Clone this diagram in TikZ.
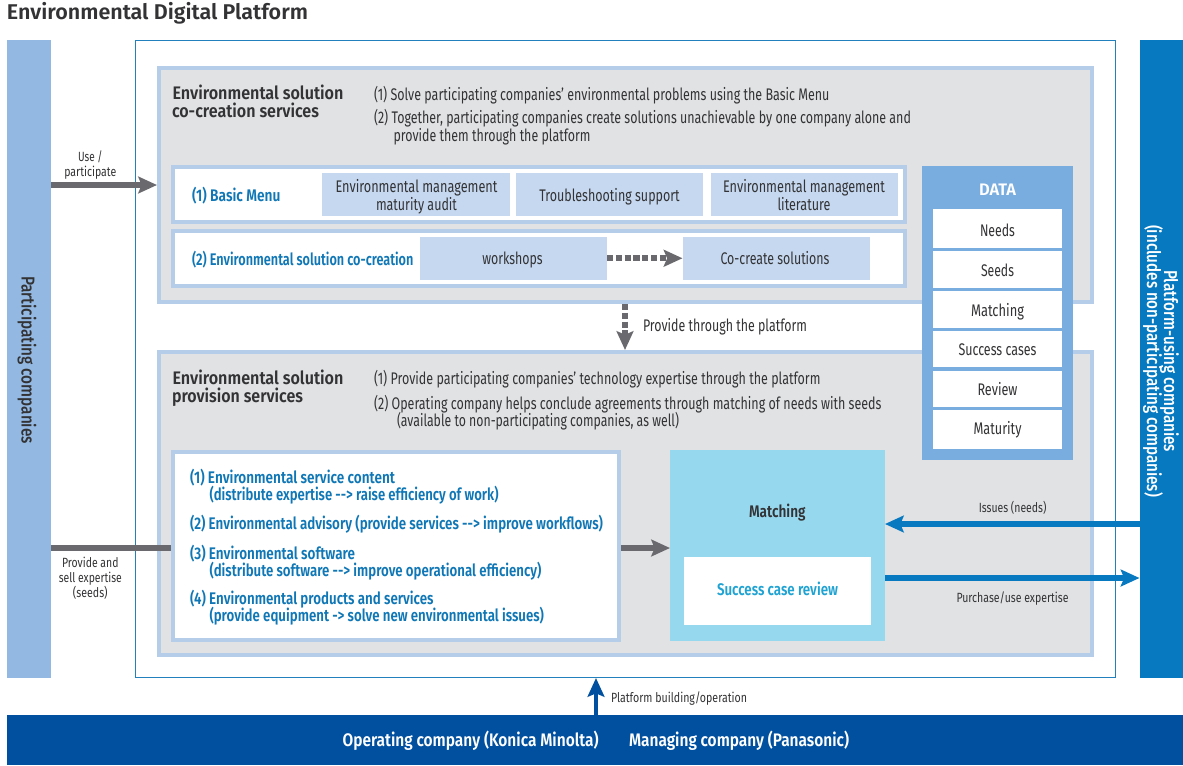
\documentclass[tikz,border=0pt]{standalone}
\usepackage{graphicx}
\usepackage{fontspec}
\setmainfont{Fira Sans}[BoldFont={Fira Sans SemiBold}]
\newfontface\medface{Fira Sans Medium}
\usetikzlibrary{arrows.meta}
\definecolor{cSide}{HTML}{93B9E3}
\definecolor{cOuter}{HTML}{2280BC}
\definecolor{cGray}{HTML}{E0E2E4}
\definecolor{cEdge}{HTML}{B5CDE8}
\definecolor{cTile}{HTML}{C5D8F0}
\definecolor{cData}{HTML}{7AADDF}
\definecolor{cBar}{HTML}{0779C1}
\definecolor{cBase}{HTML}{00509F}
\definecolor{cMatch}{HTML}{96D9EF}
\definecolor{cCyan}{HTML}{1FA3D3}
\definecolor{cBlue}{HTML}{0F77B6}
\definecolor{cArrow}{HTML}{6A6A6E}
\definecolor{cText}{HTML}{333335}
\tikzset{
  boxn/.style={rectangle,inner sep=0pt},
  txt/.style={inner sep=0pt,outer sep=0pt,anchor=base west,text=cText},
  mid/.style={anchor=base},
  body/.style={font=\fontsize{12.6pt}{14pt}\selectfont},
  small/.style={font=\fontsize{10pt}{12pt}\selectfont},
  head/.style={font=\fontsize{13.6pt}{15pt}\selectfont\bfseries},
  blue/.style={font=\fontsize{12.6pt}{14pt}\selectfont\bfseries,text=cBlue},
  sidelab/.style={anchor=base,rotate=-90,font=\fontsize{14pt}{15pt}\medface},
  ah/.tip={Stealth[length=14pt,width=12.5pt,inset=2.5pt]},
  grayarrow/.style={draw=cArrow,line width=4.5pt},
  dasharrow/.style={draw=cArrow,line width=4.5pt,dash pattern=on 4.6pt off 2pt},
  bluearrow/.style={draw=cBar,line width=4.2pt},
}
% name, x0, y0, x1, y1, style, border (all in reference pixels, outer edges)
\newcommand{\bx}[7]{%
  \pgfmathsetlengthmacro\bxw{(#4-#2-#7)*0.75}%
  \pgfmathsetlengthmacro\bxh{(#5-#3-#7)*0.75}%
  \pgfmathsetlengthmacro\bxl{#7*0.75}%
  \node[boxn,#6,minimum width=\bxw,minimum height=\bxh,line width=\bxl,outer sep=0.5*\bxl] (#1) at ({(#2+#4)/2},{(#3+#5)/2}) {};}
% name, x, baseline y, style, width in px, text
\newcommand{\tl}[6]{%
  \pgfmathsetlengthmacro\tlw{#5*0.75}%
  \node[txt,#4] (#1) at (#2,#3) {\resizebox{\tlw}{\height}{#6}};}
\begin{document}
\begin{tikzpicture}[x=0.75pt,y=-0.75pt]
\useasboundingbox (0,0) rectangle (1183,765);
\fill[white] (0,0) rectangle (1183,765);
% big containers
\bx{pc}{6.5}{40}{51}{678}{fill=cSide}{0}
\bx{pu}{1139.5}{40}{1183}{678}{fill=cBar}{0}
\bx{base}{6.5}{715}{1183}{764.5}{fill=cBase}{0}
\bx{outer}{134.5}{40}{1116}{678}{fill=white,draw=cOuter}{1.3}
\bx{gone}{157}{65.5}{1094}{304}{fill=cGray,draw=cEdge}{4}
\bx{gtwo}{157}{350}{1094}{657}{fill=cGray,draw=cEdge}{4}
% co-creation rows
\bx{rowa}{170.5}{164.5}{907}{224}{fill=white,draw=cEdge}{4}
\bx{rowb}{170.5}{228.5}{907}{288}{fill=white,draw=cEdge}{4}
\bx{ta}{321.5}{173}{510}{216}{fill=cTile}{0}
\bx{tb}{515.5}{173}{703}{216}{fill=cTile}{0}
\bx{tc}{710.5}{173}{898}{216}{fill=cTile}{0}
\bx{wk}{420}{237}{607}{279.5}{fill=cTile}{0}
\bx{cc}{682.5}{237}{870}{279.5}{fill=cTile}{0}
% data
\bx{data}{922}{165.5}{1072.5}{460}{fill=cData}{0}
\bx{da}{933}{209}{1062}{247.5}{fill=white}{0}
\bx{db}{933}{251}{1062}{287.5}{fill=white}{0}
\bx{dc}{933}{291}{1062}{327.5}{fill=white}{0}
\bx{dd}{933}{331}{1062}{367}{fill=white}{0}
\bx{de}{933}{370.5}{1062}{406.5}{fill=white}{0}
\bx{df}{933}{410}{1062}{449}{fill=white}{0}
% provision area
\bx{list}{170.5}{449.5}{621}{641.5}{fill=white,draw=cEdge}{4}
\bx{match}{670}{450}{885}{641}{fill=cMatch}{0}
\bx{succ}{684}{556.5}{871}{625}{fill=white}{0}
% connector rows
\coordinate (ya) at (0,185);
\coordinate (yb) at (0,548);
\coordinate (yc) at (0,524);
\coordinate (yd) at (0,578);
\coordinate (xv) at (625,0);
\coordinate (xp) at (596,0);
\draw[grayarrow,-{ah[]}] (pc.east |- ya) -- (gone.west |- ya);
\draw[grayarrow] (pc.east |- yb) -- (list.west |- yb);
\draw[grayarrow,-{ah[]}] (list.east |- yb) -- (match.west |- yb);
\draw[dasharrow,-{ah[]}] (wk.east) -- (cc.west);
\draw[dasharrow,-{ah[]}] (xv |- gone.south) -- (xv |- gtwo.north);
\draw[bluearrow,-{ah[]}] (pu.west |- yc) -- (match.east |- yc);
\draw[bluearrow,-{ah[]}] (match.east |- yd) -- (pu.west |- yd);
\draw[draw=cBase,line width=3.2pt,-{ah[]}] (xp |- base.north) -- (xp |- outer.south);
% title
\tl{title}{7}{19.5}{font=\fontsize{16pt}{18pt}\selectfont\bfseries}{301}{Environmental Digital Platform}
% side labels
\tl{pca}{21.5}{360}{sidelab}{168}{Participating companies}
\tl{pua}{1164}{361}{sidelab,text=white}{182}{Platform-using companies}
\tl{pub}{1147}{361}{sidelab,text=white}{272}{(includes non-participating companies)}
% left labels
\tl{usea}{90.3}{161}{mid,small}{24.5}{Use /}
\tl{useb}{90.3}{176}{mid,small}{52}{participate}
\tl{sella}{90.3}{567.3}{mid,small}{56.4}{Provide and}
\tl{sellb}{90.3}{582.3}{mid,small}{63}{sell expertise}
\tl{sellc}{90.3}{597}{mid,small}{34.7}{(seeds)}
% co-creation text
\tl{ha}{172.5}{99.5}{head}{171}{Environmental solution}
\tl{hb}{172}{117.5}{head}{147}{co-creation services}
\tl{sa}{374}{100}{body}{455.5}{(1) Solve participating companies' environmental problems using the Basic Menu}
\tl{sb}{374}{123.5}{body}{537}{(2) Together, participating companies create solutions unachievable by one company alone and}
\tl{sc}{393.5}{141.5}{body}{197}{provide them through the platform}
\tl{ra}{192}{201}{blue}{88.5}{(1) Basic Menu}
\tl{rb}{192}{265}{blue}{221.5}{(2) Environmental solution co-creation}
\tl{taa}{416.5}{192.7}{mid,body}{162}{Environmental management}
\tl{tab}{416.5}{210.7}{mid,body}{81}{maturity audit}
\tl{tba}{609.5}{201}{mid,body}{140.5}{Troubleshooting support}
\tl{tca}{804}{192.4}{mid,body}{162}{Environmental management}
\tl{tcb}{804}{210.4}{mid,body}{53}{literature}
\tl{wka}{512.5}{264.3}{mid,body}{60.5}{workshops}
\tl{cca}{775}{264}{mid,body}{109}{Co-create solutions}
\tl{prov}{643}{331.7}{body}{164}{Provide through the platform}
% data text
\tl{dta}{997.5}{195.7}{mid,text=white,font=\fontsize{12.5pt}{15pt}\selectfont\bfseries}{37}{DATA}
\tl{dat}{997.5}{236}{mid,body}{35}{Needs}
\tl{dbt}{997.5}{276.7}{mid,body}{33}{Seeds}
\tl{dct}{997.5}{316}{mid,body}{53}{Matching}
\tl{ddt}{997.5}{355.3}{mid,body}{78}{Success cases}
\tl{det}{997.5}{395}{mid,body}{40}{Review}
\tl{dft}{997.5}{434.3}{mid,body}{48}{Maturity}
% provision text
\tl{pa}{172.5}{384}{head}{171}{Environmental solution}
\tl{pb}{172}{402}{head}{131}{provision services}
\tl{qa}{374}{384.3}{body}{446.5}{(1) Provide participating companies' technology expertise through the platform}
\tl{qb}{374}{409}{body}{507.5}{(2) Operating company helps conclude agreements through matching of needs with seeds}
\tl{qc}{397}{426}{body}{282}{(available to non-participating companies, as well)}
\tl{la}{190}{483}{blue}{205}{(1) Environmental service content}
\tl{lb}{209.5}{500.3}{blue}{289}{(distribute expertise {-}{-}> raise efficiency of work)}
\tl{lc}{190}{529}{blue}{413}{(2) Environmental advisory (provide services {-}{-}> improve workflows)}
\tl{ld}{190}{559}{blue}{165}{(3) Environmental software}
\tl{le}{209.5}{576}{blue}{332}{(distribute software {-}{-}> improve operational efficiency)}
\tl{lf}{190}{604.7}{blue}{243.6}{(4) Environmental products and services}
\tl{lg}{209.5}{621.7}{blue}{334.5}{(provide equipment {-}> solve new environmental issues)}
\tl{mta}{777.3}{517.3}{mid,font=\fontsize{12.6pt}{14pt}\selectfont\bfseries}{56.5}{Matching}
\tl{sta}{777.5}{595}{mid,text=cCyan,font=\fontsize{12.6pt}{14pt}\selectfont\bfseries}{121}{Success case review}
\tl{isa}{1012.6}{512.3}{mid,small}{67.7}{Issues (needs)}
\tl{pra}{1012.5}{602.7}{mid,small}{112}{Purchase/use expertise}
\tl{pl}{611}{702.7}{small}{136}{Platform building/operation}
\tl{opa}{342.6}{746}{text=white,font=\fontsize{13.6pt}{15pt}\selectfont\bfseries}{256}{Operating company (Konica Minolta)}
\tl{ma}{629}{746}{text=white,font=\fontsize{13.6pt}{15pt}\selectfont\bfseries}{220}{Managing company (Panasonic)}
\end{tikzpicture}
\end{document}
